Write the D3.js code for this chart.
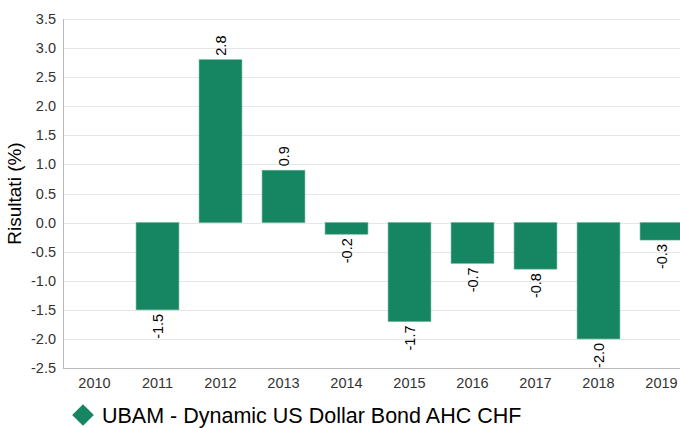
<!DOCTYPE html>
<html>
<head>
<meta charset="utf-8">
<script src="https://cdnjs.cloudflare.com/ajax/libs/d3/7.8.5/d3.min.js"></script>
<style>
  body { margin: 0; background: #fff; }
  svg { display: block; font-family: "Liberation Sans", Arial, sans-serif; }
</style>
</head>
<body>
<svg width="680" height="428"></svg>
<script>
const years = ["2010", "2011", "2012", "2013", "2014", "2015", "2016", "2017", "2018", "2019"];
const results = [null, -1.5, 2.8, 0.9, -0.2, -1.7, -0.7, -0.8, -2.0, -0.3];
const yTicks = [-2.5, -2.0, -1.5, -1.0, -0.5, 0.0, 0.5, 1.0, 1.5, 2.0, 2.5, 3.0, 3.5];
const seriesName = "UBAM - Dynamic US Dollar Bond AHC CHF";
const yTitle = "Risultati (%)";

const barColor = "#168562";
const svg = d3.select("svg");

const margin = { top: 19, bottom: 368, left: 63, right: 693 };

const x = d3.scaleBand()
  .domain(years)
  .range([margin.left, margin.right])
  .paddingInner(0.32)
  .paddingOuter(0.16);

const y = d3.scaleLinear()
  .domain([-2.5, 3.5])
  .range([margin.bottom, margin.top]);

// gridlines
svg.append("g")
  .selectAll("line")
  .data(yTicks)
  .enter().append("line")
  .attr("x1", margin.left)
  .attr("x2", 680)
  .attr("y1", d => Math.round(y(d)) + 0.5)
  .attr("y2", d => Math.round(y(d)) + 0.5)
  .attr("stroke", "#e6e6e6")
  .attr("stroke-width", 1);

// y tick labels
svg.append("g")
  .selectAll("text")
  .data(yTicks)
  .enter().append("text")
  .attr("x", 56)
  .attr("y", d => y(d))
  .attr("dy", "0.35em")
  .attr("text-anchor", "end")
  .attr("font-size", 14.5)
  .attr("fill", "#333")
  .text(d => d.toFixed(1));

// bars
const data = years.map((yr, i) => ({ year: yr, value: results[i] })).filter(d => d.value !== null);

svg.append("g")
  .selectAll("rect")
  .data(data)
  .enter().append("rect")
  .attr("x", d => x(d.year))
  .attr("width", x.bandwidth())
  .attr("y", d => y(Math.max(0, d.value)))
  .attr("height", d => Math.abs(y(d.value) - y(0)))
  .attr("fill", barColor)
  .attr("stroke", "#5fae92")
  .attr("stroke-width", 0.6);

// value labels
svg.append("g")
  .selectAll("text")
  .data(data)
  .enter().append("text")
  .attr("transform", d => {
    const cx = x(d.year) + x.bandwidth() / 2 + 5;
    const cy = d.value >= 0 ? y(d.value) - 4 : y(d.value) + 4;
    return `translate(${cx},${cy}) rotate(-90)`;
  })
  .attr("text-anchor", d => d.value >= 0 ? "start" : "end")
  .attr("font-size", 14.5)
  .attr("fill", "#000")
  .text(d => d.value.toFixed(1));

// axes lines
svg.append("line")
  .attr("x1", margin.left + 0.5).attr("x2", margin.left + 0.5)
  .attr("y1", margin.top).attr("y2", margin.bottom + 1)
  .attr("stroke", "#bbb");
svg.append("line")
  .attr("x1", margin.left).attr("x2", 680)
  .attr("y1", margin.bottom + 0.5).attr("y2", margin.bottom + 0.5)
  .attr("stroke", "#bbb");

// x labels
svg.append("g")
  .selectAll("text")
  .data(years)
  .enter().append("text")
  .attr("x", d => x(d) + x.bandwidth() / 2)
  .attr("y", 388)
  .attr("text-anchor", "middle")
  .attr("font-size", 14.5)
  .attr("fill", "#333")
  .text(d => d);

// y title
svg.append("text")
  .attr("transform", `translate(21,${(margin.top + margin.bottom) / 2 + 0}) rotate(-90)`)
  .attr("text-anchor", "middle")
  .attr("font-size", 19)
  .attr("fill", "#000")
  .text(yTitle);

// legend
const legend = svg.append("g").attr("transform", "translate(83,415)");
legend.append("path")
  .attr("d", d3.symbol(d3.symbolDiamond2, 300)())
  .attr("fill", barColor);
legend.append("text")
  .attr("x", 19)
  .attr("y", 0)
  .attr("dy", "0.36em")
  .attr("font-size", 21.5)
  .attr("fill", "#000")
  .text(seriesName);
</script>
</body>
</html>
